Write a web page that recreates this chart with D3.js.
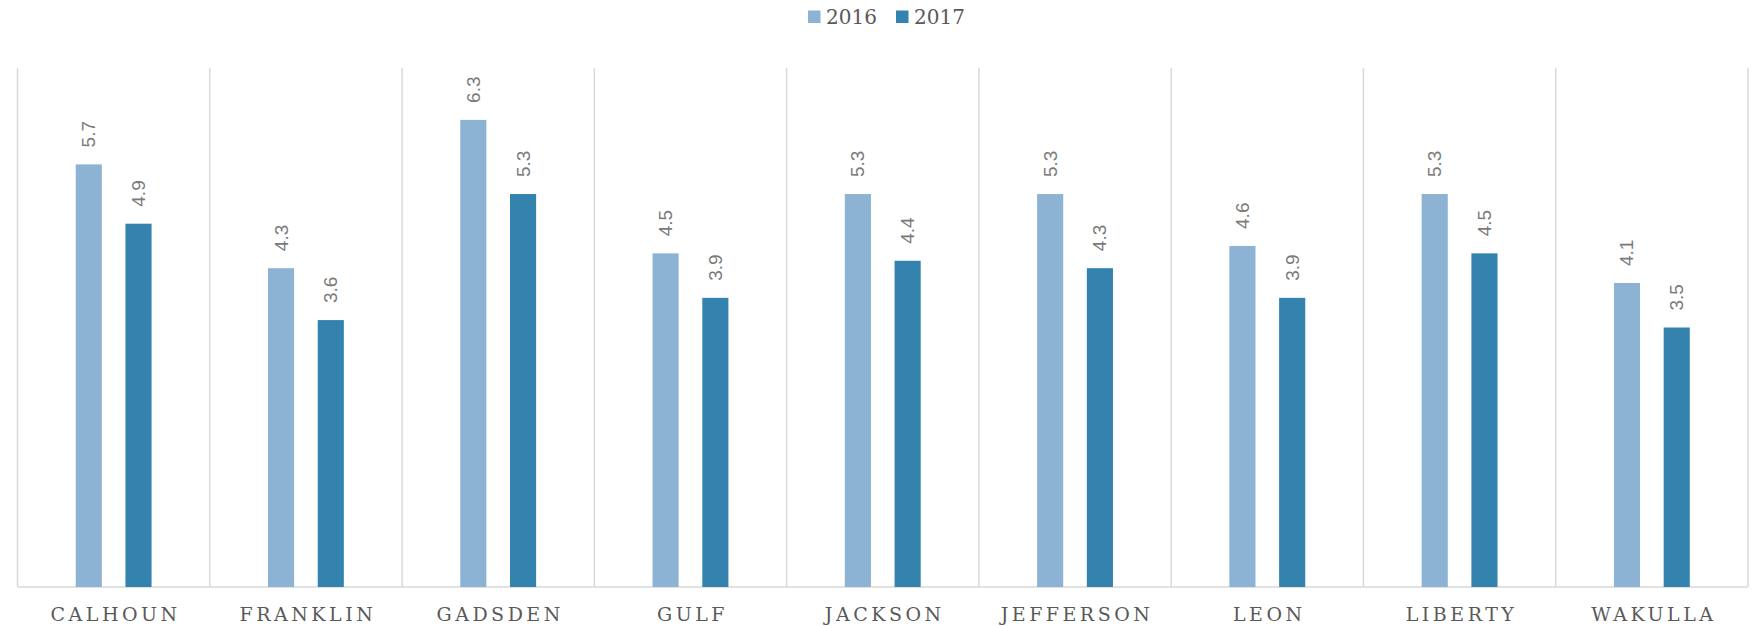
<!DOCTYPE html>
<html>
<head>
<meta charset="utf-8">
<script src="https://cdn.jsdelivr.net/npm/d3@7"></script>
<style>
  body { margin: 0; background: #fff; }
</style>
</head>
<body>
<div id="chart"></div>
<script>
var counties = ["CALHOUN", "FRANKLIN", "GADSDEN", "GULF", "JACKSON", "JEFFERSON", "LEON", "LIBERTY", "WAKULLA"];
var years = ["2016", "2017"];
var vals2016 = [5.7, 4.3, 6.3, 4.5, 5.3, 5.3, 4.6, 5.3, 4.1];
var vals2017 = [4.9, 3.6, 5.3, 3.9, 4.4, 4.3, 3.9, 4.5, 3.5];

var width = 1754,
	height = 626;
var plotLeft = 17.5, plotRight = 1748, plotTop = 68, plotBottom = 587;

var colors = d3.scaleOrdinal()
	.domain(years)
	.range(["#8db3d4", "#3383ae"]);

// rows built from the arrays above
var rows = counties.map(function(c, i){
	return {name: c, values: [
		{year: "2016", v: vals2016[i]},
		{year: "2017", v: vals2017[i]}
	]};
});

var x0 = d3.scaleBand()
	.domain(counties)
	.range([plotLeft, plotRight]);

var x1 = d3.scaleBand()
	.domain(years)
	.range([0, x0.bandwidth()])
	.paddingInner(0.475)
	.paddingOuter(1.17);

var yScale = d3.scaleLinear()
	.domain([0, 7])
	.range([plotBottom, plotTop]);

var svg = d3.select("#chart").append("svg")
	.attr("width", width)
	.attr("height", height)
	.style("font-family", "'Liberation Sans', Arial, sans-serif");

//vertical separators between counties
var edges = counties.map(function(c){ return x0(c); }).concat([plotRight]);
svg.selectAll("line.sep").data(edges)
	.enter().append("line")
		.attr("class", "sep")
		.attr("x1", function(d){ return d; })
		.attr("x2", function(d){ return d; })
		.attr("y1", plotTop)
		.attr("y2", plotBottom)
		.style("stroke", "#d9d9d9")
		.style("stroke-width", 1.5);

svg.append("line")
	.attr("x1", plotLeft).attr("x2", plotRight)
	.attr("y1", plotBottom).attr("y2", plotBottom)
	.style("stroke", "#d9d9d9")
	.style("stroke-width", 1.5);

var groups = svg.selectAll("g.county").data(rows)
	.enter().append("g")
		.attr("class", "county")
		.attr("transform", function(d){ return "translate(" + x0(d.name) + ",0)"; });

groups.selectAll("rect").data(function(d){ return d.values; })
	.enter().append("rect")
		.attr("x", function(d){ return x1(d.year); })
		.attr("width", x1.bandwidth())
		.attr("y", function(d){ return yScale(d.v); })
		.attr("height", function(d){ return plotBottom - yScale(d.v); })
		.style("fill", function(d){ return colors(d.year); });

//value labels, rotated
groups.selectAll("text.val").data(function(d){ return d.values; })
	.enter().append("text")
		.attr("class", "val")
		.attr("transform", function(d){
			var cx = x1(d.year) + x1.bandwidth() / 2;
			return "translate(" + cx + "," + (yScale(d.v) - 17) + ") rotate(-90)";
		})
		.attr("dominant-baseline", "central")
		.style("font-size", "19px")
		.style("fill", "#7a7a7a")
		.text(function(d){ return d3.format(".1f")(d.v); });

//county names
svg.selectAll("text.cat").data(counties)
	.enter().append("text")
		.attr("class", "cat")
		.attr("x", function(d){ return x0(d) + x0.bandwidth() / 2 + 2; })
		.attr("y", 621)
		.attr("text-anchor", "middle")
		.style("font-family", "'DejaVu Serif', 'Liberation Serif', serif")
		.style("font-size", "19px")
		.style("letter-spacing", "3.5px")
		.style("fill", "#595959")
		.text(function(d){ return d; });

//legend
var legend = svg.selectAll("g.legend").data(years)
	.enter().append("g")
		.attr("class", "legend")
		.attr("transform", function(d, i){ return "translate(" + (808 + i * 88) + ",0)"; });

legend.append("rect")
	.attr("y", 10.5)
	.attr("width", 12.5)
	.attr("height", 12.5)
	.style("fill", function(d){ return colors(d); });

legend.append("text")
	.attr("x", 18)
	.attr("y", 24)
	.style("font-family", "'DejaVu Serif', 'Liberation Serif', serif")
	.style("font-size", "20px")
	.style("fill", "#595959")
	.text(function(d){ return d; });
</script>
</body>
</html>
